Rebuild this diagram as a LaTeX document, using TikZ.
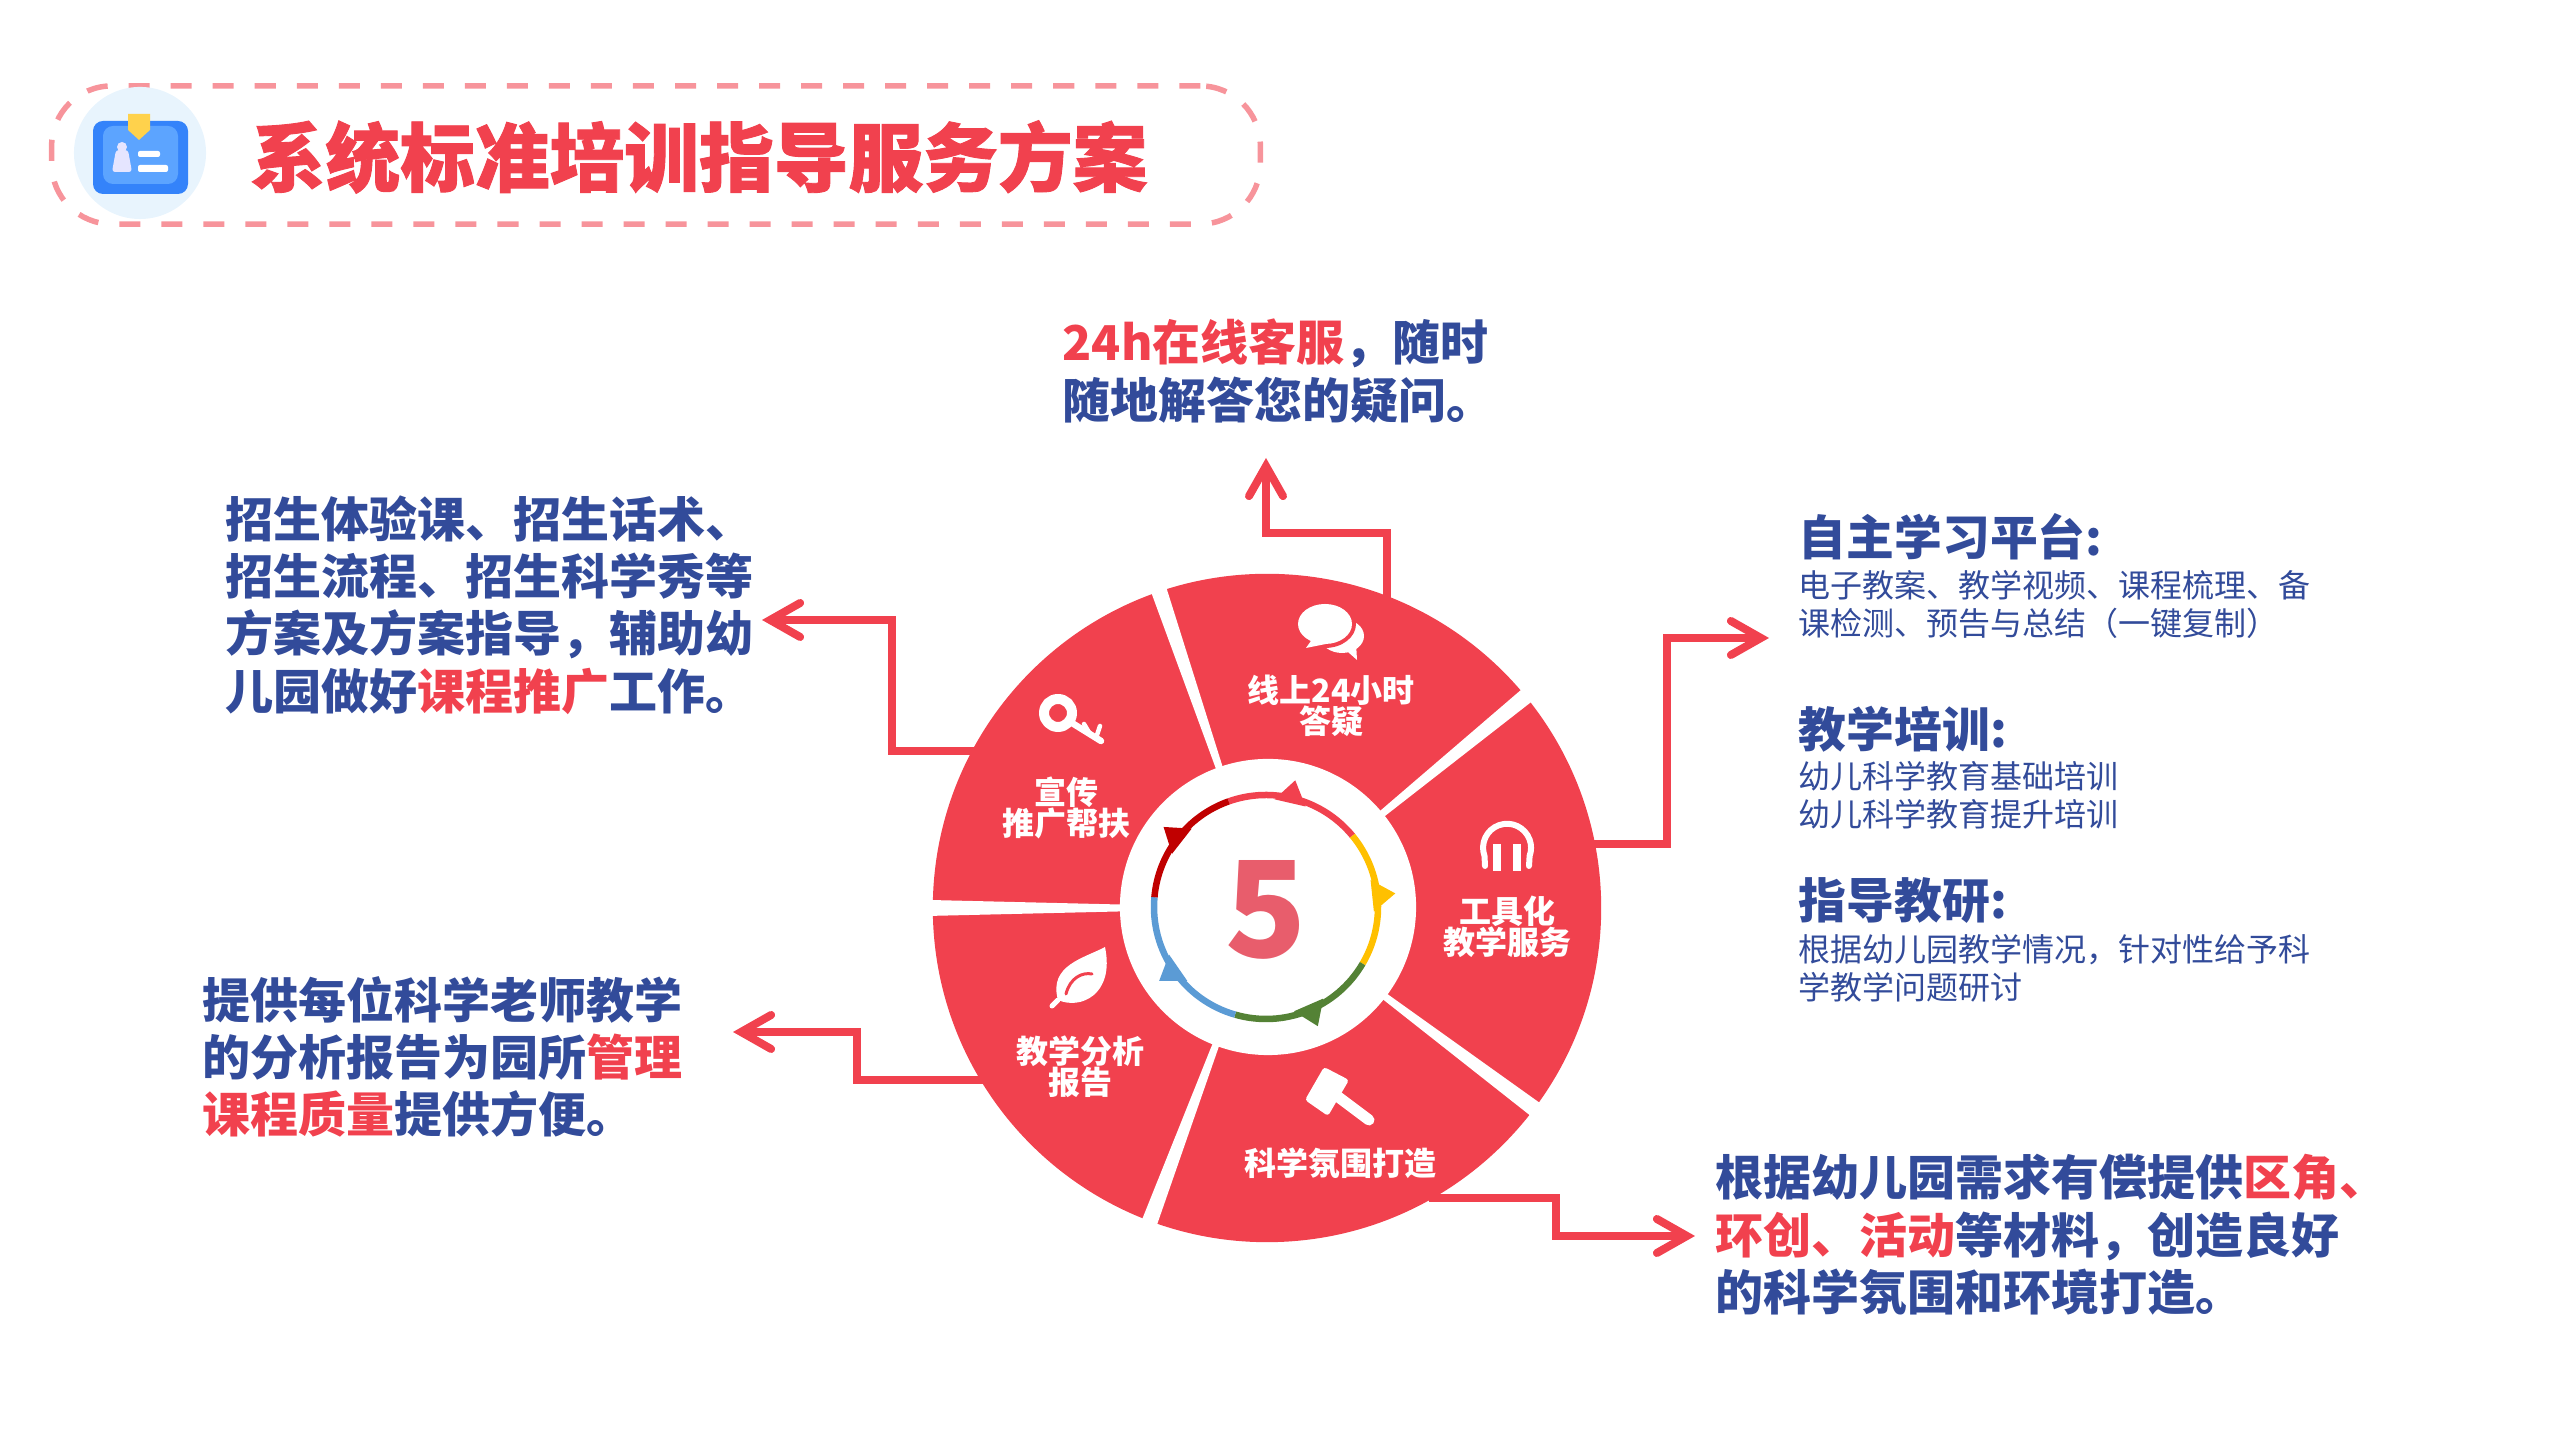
\documentclass[tikz,border=0pt]{standalone}
\usepackage{fontspec}
\usetikzlibrary{arrows.meta}
\newfontfamily\cjkfont{Noto Sans CJK SC}[BoldFont={Noto Sans CJK SC Bold}]
\newfontfamily\cjkblack{Noto Sans CJK SC Black}
\newfontfamily\cjkheavy{Noto Sans CJK SC Black}[FakeBold=1.2]
\definecolor{wheelRed}{rgb}{0.945,0.255,0.306}
\definecolor{inkBlue}{rgb}{0.196,0.294,0.604}
\definecolor{dashPink}{rgb}{0.969,0.580,0.608}
\definecolor{fiveRed}{rgb}{0.910,0.365,0.424}
\definecolor{ringRed}{rgb}{0.945,0.255,0.306}
\definecolor{ringYellow}{rgb}{1.000,0.753,0.000}
\definecolor{ringGreen}{rgb}{0.329,0.510,0.208}
\definecolor{ringBlue}{rgb}{0.357,0.608,0.835}
\definecolor{ringDark}{rgb}{0.753,0.000,0.000}
\newcommand{\hotText}[1]{\textcolor{wheelRed}{#1}}
\begin{document}
\begin{tikzpicture}[
  x=0.01cm, y=0.01cm,
  leadline/.style={draw=wheelRed, line width=0.08cm, shorten <=-0.05cm,
    -{Straight Barb[length=0.3cm, width=0.34cm, line cap=round]}},
  bigtext/.style={anchor=west, inner sep=0pt, align=left, text=inkBlue,
    font=\cjkblack\fontsize{13.65pt}{16.3pt}\selectfont},
  headtext/.style={anchor=west, inner sep=0pt, text=inkBlue,
    font=\cjkblack\fontsize{13.6pt}{15pt}\selectfont},
  smalltext/.style={anchor=west, inner sep=0pt, align=left, text=inkBlue,
    font=\cjkfont\fontsize{9.1pt}{10.8pt}\selectfont},
  wheeltext/.style={inner sep=0pt, align=center, text=white,
    font=\cjkblack\fontsize{9.1pt}{8.9pt}\selectfont},
  ringarc/.style={line width=0.065cm},
  iconline/.style={draw=white, line cap=round, line join=round},
]
\useasboundingbox (0,0) rectangle (2560,1440);
% Title bar
\node (titlebox) [draw=dashPink, line width=0.055cm, dash pattern=on 0.21cm off 0.21cm,
  rounded corners=0.6cm, minimum width=12.08cm, minimum height=1.38cm, inner sep=0pt] at (656,1285) {};
\fill[white] (80,1240) rectangle (200,1330);
\node (badge) [circle, fill={rgb,1:red,0.910;green,0.957;blue,0.992}, minimum size=1.32cm, inner sep=0pt] at (140,1287) {};
\node (titletext) [anchor=west, inner sep=0pt, text=wheelRed,
  font=\cjkheavy\fontsize{21.25pt}{24pt}\selectfont] at (250,1283) {系统标准培训指导服务方案};
% Badge icon
\fill[fill={rgb,1:red,0.204;green,0.514;blue,0.980}, rounded corners=0.1cm] (93,1246) rectangle (188,1319);
\fill[fill={rgb,1:red,0.361;green,0.643;blue,1.000}, rounded corners=0.1cm] (103,1256) rectangle (178,1314);
\fill[fill={rgb,1:red,1.000;green,0.824;blue,0.300}] (128,1326) -- (150,1326) -- (150,1310) -- (139,1300) -- (128,1310) -- cycle;
\fill[white!90!blue] (122,1293) circle (5);
\fill[white!90!blue, rounded corners=0.03cm] (112,1268) -- (132,1268) -- (128,1290) -- (116,1290) -- cycle;
\fill[white, rounded corners=0.02cm] (138,1283) rectangle (160,1289);
\fill[white, rounded corners=0.02cm] (138,1268) rectangle (168,1275);
% Wheel
\node (wheel) [circle, fill=wheelRed, minimum size=6.68cm, inner sep=0pt] at (1267,532) {};
\foreach \gapang in {108.8,39.3,-36.9,-110.5,180} {
  \fill[white] (wheel.center) -- ++(\gapang+1.35:345) -- ++(\gapang-90:16.3) -- cycle;
}
\node (hub) [circle, fill=white, minimum size=2.96cm, inner sep=0pt] at (1268,533) {};
% Ring around the number
\begin{scope}[shift={(1266,533)}]
  \foreach \angfrom/\angto/\angtip/\ringcol in {
    109.5/39.5/77/ringRed, 39.5/-30.4/6/ringYellow, -30.4/-106/-66.5/ringGreen,
    -106/-185/-145.3/ringBlue, 175/109.5/142/ringDark} {
    \draw[ringarc, draw=\ringcol] (\angfrom:112) arc (\angfrom:\angto:112);
    \fill[\ringcol] (\angtip+8.5:108) -- (\angtip:130) -- (\angtip-8.5:108) -- cycle;
  }
\end{scope}
\node (five) [inner sep=0pt, text=fiveRed, font=\cjkblack\fontsize{38pt}{38pt}\selectfont] at (1266,530) {5};
% Wheel labels
\node (answerlabel) [wheeltext] at (1331,734) {线上24小时\\答疑};
\node (promolabel) [wheeltext] at (1066,632) {宣传\\推广帮扶};
\node (toollabel) [wheeltext] at (1507,513) {工具化\\教学服务};
\node (sciencelabel) [wheeltext] at (1340,277) {科学氛围打造};
\node (reportlabel) [wheeltext] at (1080,373) {教学分析\\报告};
% Speech icon
\fill[white] (1342,804) ellipse (22 and 17);
\fill[white] (1340,795) -- (1357,780) -- (1356,797) -- cycle;
\fill[wheelRed] (1325,816) ellipse (31 and 24);
\fill[white] (1325,816) ellipse (27 and 20);
\fill[white] (1313,802) -- (1306,792) -- (1326,796) -- cycle;
% Headphone icon
\draw[iconline, line width=0.06cm] (1485,574) -- (1484.5,584) arc (200:-20:24) -- (1529,574);
\draw[iconline, line width=0.075cm, line cap=butt] (1497,596) -- (1497,569);
\draw[iconline, line width=0.075cm, line cap=butt] (1517,596) -- (1517,569);
% Key icon
\draw[iconline, line width=0.1cm] (1058,727) circle (14);
\draw[iconline, line width=0.065cm] (1072,717) -- (1101,699);
\draw[iconline, line width=0.045cm] (1090,706) -- (1084,716);
\draw[iconline, line width=0.045cm] (1096,702) -- (1100,714);
% Leaf icon
\fill[white] (1105,493) .. controls (1085,482) and (1048,475) .. (1058,440) .. controls (1080,430) and (1115,445) .. (1105,493) -- cycle;
\draw[iconline, line width=0.05cm] (1058,440) -- (1052,434);
\draw[draw=wheelRed, line width=0.03cm, line cap=round] (1066,446) .. controls (1070,462) and (1082,468) .. (1092,466);
% Gavel icon
\fill[white, rounded corners=0.03cm] (1324,373) -- (1349,360) -- (1328,324) -- (1305,340) -- cycle;
\draw[iconline, line width=0.11cm] (1337,344) -- (1369,320);
% Text blocks
\node (onlinetext) [bigtext] at (1062,1069) {\hotText{24h在线客服}，随时\\随地解答您的疑问。};
\node (promotext) [bigtext] at (225,835) {招生体验课、招生话术、\\招生流程、招生科学秀等\\方案及方案指导，辅助幼\\儿园做好\hotText{课程推广}工作。};
\node (reporttext) [bigtext] at (202,383) {提供每位科学老师教学\\的分析报告为园所\hotText{管理}\\\hotText{课程质量}提供方便。};
\node (sciencetext) [bigtext] at (1715,205) {根据幼儿园需求有偿提供\hotText{区角、}\\\hotText{环创、活动}等材料，创造良好\\的科学氛围和环境打造。};
\node (platformhead) [headtext] at (1798,903) {自主学习平台:};
\node (platformtext) [smalltext] at (1798,836) {电子教案、教学视频、课程梳理、备\\课检测、预告与总结（一键复制）};
\node (trainhead) [headtext] at (1798,711) {教学培训:};
\node (traintext) [smalltext] at (1798,645) {幼儿科学教育基础培训\\幼儿科学教育提升培训};
\node (guidehead) [headtext] at (1798,539) {指导教研:};
\node (guidetext) [smalltext] at (1798,472) {根据幼儿园教学情况，针对性给予科\\学教学问题研讨};
% Connectors
\coordinate (onlinebend) at (1266,907);
\coordinate (onlinetip) at (1266,982);
\coordinate (toolbend) at (1667,802);
\coordinate (tooltip) at (1769,802);
\coordinate (promobend) at (892,820);
\coordinate (promotip) at (762,820);
\coordinate (reportbend) at (857,408);
\coordinate (reporttip) at (733,408);
\coordinate (sciencebend) at (1556,204);
\coordinate (sciencetip) at (1695,204);
\draw[leadline] (wheel.69) |- (onlinebend) -- (onlinetip);
\draw[leadline] (wheel.11) -| (toolbend) -- (tooltip);
\draw[leadline] (wheel.152) -| (promobend) -- (promotip);
\draw[leadline] (wheel.211) -| (reportbend) -- (reporttip);
\draw[leadline] (wheel.-60) -| (sciencebend) -- (sciencetip);
\end{tikzpicture}
\end{document}
